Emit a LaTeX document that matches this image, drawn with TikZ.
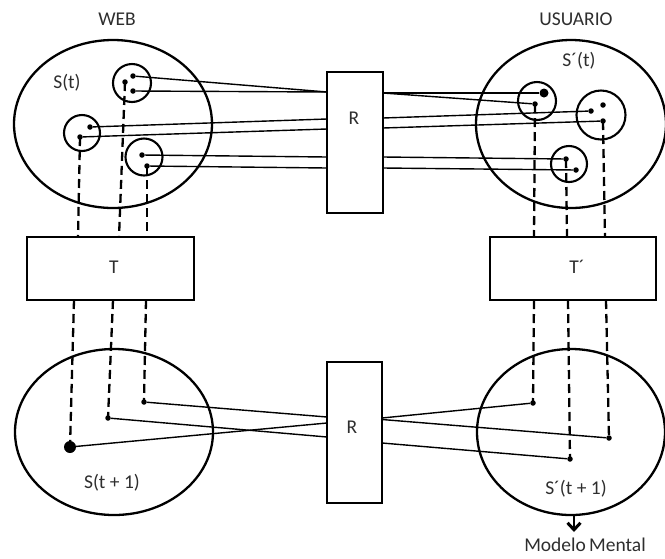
\documentclass[tikz,border=0pt]{standalone}
\usepackage{fontspec}
\setmainfont{Carlito}
\usetikzlibrary{arrows.meta,shapes.geometric}
\begin{document}
\begin{tikzpicture}[x=1pt,y=-1pt,
  bigell/.style={draw,ellipse,line width=2.3pt,inner sep=0pt},
  smallc/.style={draw,circle,line width=2.1pt,inner sep=0pt},
  box/.style={draw,rectangle,line width=2.5pt,inner sep=0pt},
  link/.style={line width=1.4pt},
  proj/.style={line width=2.3pt,dash pattern=on 9pt off 5pt},
  dotc/.style={circle,fill,inner sep=0pt,minimum size=5.5pt},
  bigdot/.style={circle,fill,inner sep=0pt,minimum size=12pt},
  lab/.style={font=\fontsize{19.5}{21}\selectfont,text=black!82,inner sep=0pt}
]
\useasboundingbox (0,0) rectangle (665,558);

% titles
\node[lab] (web) at (117,19) {WEB};
\node[lab] (usu) at (576,19) {USUARIO};

% big ellipses
\node[bigell,minimum width=198pt,minimum height=168pt] (SW) at (113,124) {};
\node[bigell,minimum width=190pt,minimum height=168pt] (SU) at (571,124) {};
\node[bigell,minimum width=198pt,minimum height=166pt] (SW2) at (114,432) {};
\node[bigell,minimum width=188pt,minimum height=166pt] (SU2) at (571,432) {};

\node[lab] (lst) at (67,83) {S(t)};
\node[lab] (lsut) at (579,61) {S´(t)};
\node[lab] (lst1) at (112,483) {S(t + 1)};
\node[lab] (lsut1) at (576,489) {S´(t + 1)};

% small circles (web)
\node[smallc,minimum size=38pt] (c1) at (132,83) {};
\node[smallc,minimum size=36pt] (c2) at (82,133) {};
\node[smallc,minimum size=37pt] (c3) at (144,157) {};
% small circles (user)
\node[smallc,minimum size=38pt] (cA) at (537,101) {};
\node[smallc,minimum size=49pt] (cB) at (601,115) {};
\node[smallc,minimum size=36pt] (cC) at (569,164) {};

% boxes
\node[box,minimum width=56pt,minimum height=141pt] (R1) at (355,142.5) {};
\node[lab] (lR1) at (354,118) {R};
\node[box,minimum width=55pt,minimum height=141pt] (R2) at (354.5,432.5) {};
\node[lab] (lR2) at (352,427) {R};
\node[box,minimum width=167pt,minimum height=63pt] (T) at (110.5,268.5) {};
\node[lab] (lT) at (114,267) {T};
\node[box,minimum width=166pt,minimum height=63pt] (T2) at (573,268.5) {};
\node[lab] (lT2) at (577,267) {T´};

% dots web top
\node[dotc] (a1) at (125,82) {};
\node[dotc] (a2) at (133,76) {};
\node[dotc] (a3) at (133,91) {};
\node[dotc] (b1) at (90,127) {};
\node[dotc] (b2) at (80,137) {};
\node[dotc] (e1) at (142,155) {};
\node[dotc] (e2) at (147,166) {};
% dots user top
\node[bigdot,minimum size=9pt] (p1) at (544,93) {};
\node[dotc] (p2) at (535,104) {};
\node[dotc] (q1) at (603,105) {};
\node[dotc] (q2) at (591,111) {};
\node[dotc] (q3) at (603,121) {};
\node[dotc] (s1) at (566,159) {};
\node[dotc] (s2) at (576,170) {};
% dots bottom
\node[bigdot] (g1) at (70,447) {};
\node[dotc] (g2) at (108,418) {};
\node[dotc] (g3) at (144,402) {};
\node[dotc] (h1) at (533,403) {};
\node[dotc] (h2) at (570,459) {};
\node[dotc] (h3) at (609,438) {};

% attachment points on R boxes
\coordinate (rl1) at (327,92);
\coordinate (rl2) at (327,119);
\coordinate (rl3) at (327,129);
\coordinate (rl4) at (327,157);
\coordinate (rl5) at (327,168);
\coordinate (rr1) at (383,93);
\coordinate (rr2) at (383,118);
\coordinate (rr3) at (383,128);
\coordinate (rr4) at (383,157);
\coordinate (rr5) at (383,168);
\coordinate (bl1) at (327,417);
\coordinate (bl2) at (327,423);
\coordinate (bl3) at (327,437);
\coordinate (br1) at (382,418);
\coordinate (br2) at (382,419.5);
\coordinate (br3) at (382,443);

% attachment points on T boxes
\coordinate (tt1) at (78,237);
\coordinate (tt2) at (119,237);
\coordinate (tt3) at (147,237);
\coordinate (tb1) at (74,300);
\coordinate (tb2) at (113,300);
\coordinate (tb3) at (146,300);
\coordinate (ut1) at (534,237);
\coordinate (ut2) at (567,237);
\coordinate (ut3) at (605,237);
\coordinate (ub1) at (534,300);
\coordinate (ub2) at (568,300);
\coordinate (ub3) at (606,300);

% links top
\draw[link] (a2) -- (rl1);
\draw[link] (a3) -- (rl1);
\draw[link] (b1) -- (rl2);
\draw[link] (b2) -- (rl3);
\draw[link] (e1) -- (rl4);
\draw[link] (e2) -- (rl5);
\draw[link] (rr1) -- (p1);
\draw[link] (rr1) -- (p2);
\draw[link] (rr2) -- (q2);
\draw[link] (rr3) -- (q3);
\draw[link] (rr4) -- (s1);
\draw[link] (rr5) -- (s2);

% links bottom
\draw[link] (g3) -- (bl1);
\draw[link] (g1) -- (bl2);
\draw[link] (g2) -- (bl3);
\draw[link] (br1) -- (h1);
\draw[link] (br2) -- (h3);
\draw[link] (br3) -- (h2);

% projections (dashed)
\draw[proj] (b2.center) -- (tt1);
\draw[proj] (a1.center) -- (tt2);
\draw[proj] (e2.center) -- (tt3);
\draw[proj] (tb1) -- (g1.center);
\draw[proj] (tb2) -- (g2.center);
\draw[proj] (tb3) -- (g3.center);
\draw[proj] (p2.center) -- (ut1);
\draw[proj] (s1.center) -- (ut2);
\draw[proj] (q3.center) -- (ut3);
\draw[proj] (ub1) -- (h1.center);
\draw[proj] (ub2) -- (h2.center);
\draw[proj] (ub3) -- (h3.center);

% output arrow
\coordinate (arrS) at (574,515);
\coordinate (arrE) at (574,532);
\draw[line width=2.2pt,-{Straight Barb[length=7pt,width=13pt,line width=3pt]}] (arrS) -- (arrE);
\node[lab] (mm) at (585,545) {Modelo\,Mental};
\end{tikzpicture}
\end{document}
